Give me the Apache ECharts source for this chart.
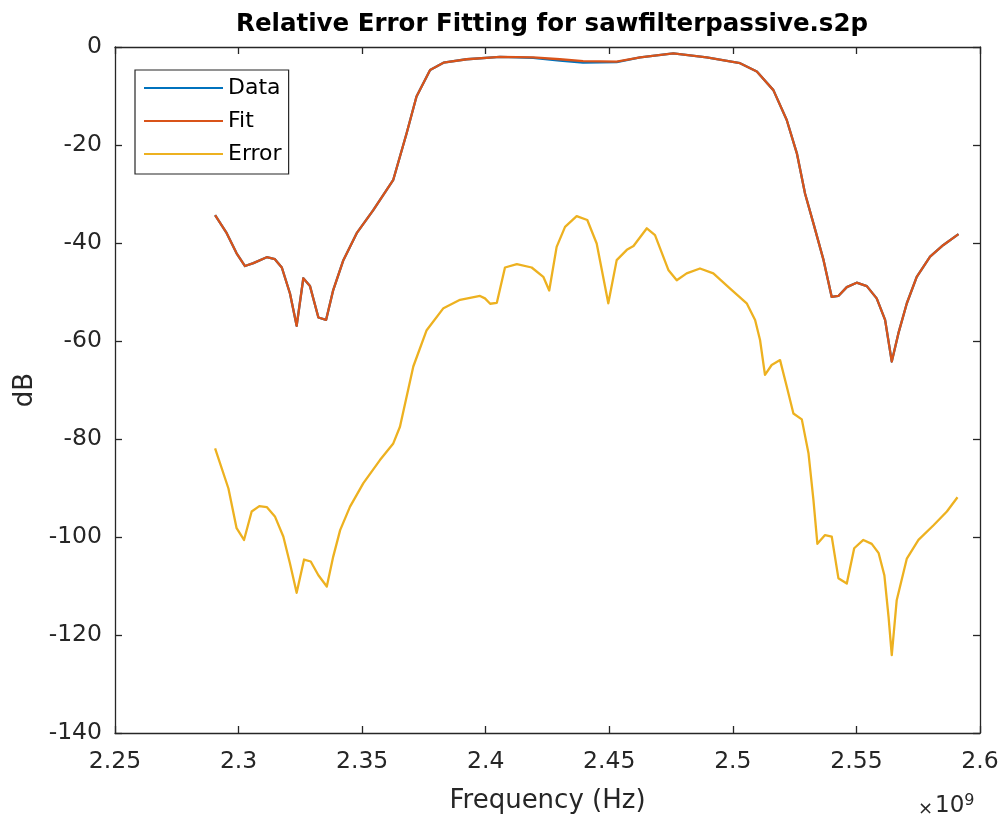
<!DOCTYPE html>
<html>
<head>
<meta charset="utf-8">
<script src="https://cdn.jsdelivr.net/npm/echarts@6/dist/echarts.min.js"></script>
<style>html,body{margin:0;padding:0;background:#fff}#c{width:1003px;height:821px}</style>
</head>
<body>
<div id="c"></div>
<script>
// Frequencies in GHz (x 1e9 Hz), values in dB
const fitFreq = [2.2905,2.2952,2.2992,2.3026,2.3060,2.3114,2.3147,2.3175,2.3208,2.3235,2.3262,2.3289,2.3323,2.3354,2.3383,2.3424,2.3478,2.3545,2.3626,2.3680,2.3720,2.3775,2.3829,2.3923,2.4058,2.4192,2.4300,2.4394,2.4530,2.4625,2.4759,2.4894,2.5029,2.5097,2.5164,2.5218,2.5259,2.5292,2.5326,2.5367,2.5400,2.5427,2.5461,2.5501,2.5542,2.5582,2.5616,2.5643,2.5670,2.5704,2.5744,2.5798,2.5852,2.5913];
const fitDb   = [-34.3,-38.0,-42.1,-44.7,-44.1,-42.9,-43.3,-45.0,-50.3,-56.9,-47.2,-48.8,-55.2,-55.7,-49.6,-43.5,-38.0,-33.3,-27.1,-17.6,-10.1,-4.7,-3.2,-2.5,-2.0,-2.1,-2.5,-2.9,-3.0,-2.1,-1.3,-2.1,-3.3,-5.0,-8.8,-14.9,-21.7,-29.9,-36.0,-43.5,-51.0,-50.8,-49.0,-48.1,-48.8,-51.3,-55.7,-64.2,-58.4,-52.3,-46.9,-42.8,-40.4,-38.2];
const dataDb  = [-34.3,-38.0,-42.1,-44.7,-44.1,-42.9,-43.3,-45.0,-50.3,-56.9,-47.2,-48.8,-55.2,-55.7,-49.6,-43.5,-38.0,-33.3,-27.1,-17.6,-10.1,-4.7,-3.2,-2.5,-2.0,-2.2,-2.8,-3.2,-3.1,-2.1,-1.3,-2.1,-3.3,-5.0,-8.8,-14.9,-21.7,-29.9,-36.0,-43.5,-51.0,-50.8,-49.0,-48.1,-48.8,-51.3,-55.7,-64.2,-58.4,-52.3,-46.9,-42.8,-40.4,-38.2];
const errFreq = [2.2905,2.2959,2.2992,2.3022,2.3053,2.3084,2.3114,2.3147,2.3181,2.3208,2.3235,2.3265,2.3292,2.3323,2.3357,2.3383,2.3411,2.3451,2.3505,2.3572,2.3626,2.3653,2.3707,2.3761,2.3829,2.3896,2.3977,2.3997,2.4018,2.4045,2.4078,2.4126,2.4186,2.4233,2.4257,2.4287,2.4321,2.4368,2.4411,2.4449,2.4496,2.4530,2.4571,2.4598,2.4652,2.4685,2.4739,2.4773,2.4813,2.4867,2.4921,2.4989,2.5056,2.5090,2.5110,2.5130,2.5157,2.5191,2.5218,2.5245,2.5279,2.5306,2.5326,2.5342,2.5373,2.5400,2.5427,2.5461,2.5491,2.5528,2.5562,2.5590,2.5613,2.5630,2.5643,2.5663,2.5704,2.5751,2.5812,2.5866,2.5909];
const errDb   = [-81.9,-90.1,-98.2,-100.6,-94.8,-93.7,-93.9,-95.8,-99.9,-105.4,-111.4,-104.6,-105.0,-107.8,-110.1,-104.0,-98.6,-93.8,-89.0,-84.3,-80.9,-77.5,-65.2,-57.8,-53.3,-51.6,-50.8,-51.3,-52.4,-52.2,-45.0,-44.3,-45.0,-46.9,-49.7,-40.8,-36.7,-34.5,-35.3,-40.1,-52.3,-43.5,-41.4,-40.6,-37.0,-38.4,-45.5,-47.6,-46.2,-45.2,-46.2,-49.3,-52.3,-55.7,-59.8,-66.9,-64.9,-63.9,-69.3,-74.8,-76.0,-82.9,-92.4,-101.4,-99.6,-99.9,-108.4,-109.5,-102.3,-100.6,-101.4,-103.3,-107.8,-116.3,-124.1,-112.9,-104.4,-100.6,-97.6,-94.8,-91.9];
const seriesNames = ['Data','Fit','Error'];
const xTickMin = 2.25, xTickMax = 2.6, xTickStep = 0.05;
const yTickMin = -140, yTickMax = 0, yTickStep = 20;

const pairs = (f, v) => f.map((x, i) => [Math.round(x * 1e9), v[i]]);
const FONT = 'DejaVu Sans';
const AX = '#262626';

const chart = echarts.init(document.getElementById('c'), null, {renderer: 'canvas'});
const axisCommon = {
  axisLine: {show: true, onZero: false, lineStyle: {color: AX, width: 1.3}},
  axisTick: {show: true, inside: true, length: 7, lineStyle: {color: AX, width: 1.3}},
  splitLine: {show: false}
};
chart.setOption({
  animation: false,
  backgroundColor: '#fff',
  title: {
    text: 'Relative Error Fitting for sawfilterpassive.s2p',
    left: 547, top: 7, textAlign: 'center',
    textStyle: {fontFamily: FONT, fontSize: 24.5, fontWeight: 'bold', color: '#000'}
  },
  grid: {left: 115, right: 23, top: 47, bottom: 88, containLabel: false},
  legend: {
    data: seriesNames, orient: 'vertical', left: 135, top: 70,
    padding: [7, 7, 9, 9], itemGap: 11, itemWidth: 79, itemHeight: 2, icon: 'rect',
    backgroundColor: '#fff', borderColor: AX, borderWidth: 1.2,
    textStyle: {fontFamily: FONT, fontSize: 22, color: '#000', lineHeight: 22}
  },
  xAxis: [
    Object.assign({
      type: 'value', position: 'bottom',
      min: xTickMin * 1e9, max: xTickMax * 1e9, interval: Math.round(xTickStep * 1e9),
      axisLabel: {fontFamily: FONT, fontSize: 23.5, color: AX, margin: 17,
        formatter: v => String(parseFloat((v / 1e9).toFixed(2)))},
      name: 'Frequency (Hz)', nameLocation: 'middle', nameGap: 55,
      nameTextStyle: {fontFamily: FONT, fontSize: 26, color: AX}
    }, axisCommon),
    Object.assign({
      type: 'value', position: 'top',
      min: xTickMin * 1e9, max: xTickMax * 1e9, interval: Math.round(xTickStep * 1e9),
      axisLabel: {show: false}
    }, axisCommon)
  ],
  yAxis: [
    Object.assign({
      type: 'value', position: 'left', min: yTickMin, max: yTickMax, interval: yTickStep,
      axisLabel: {fontFamily: FONT, fontSize: 23.5, color: AX, margin: 13},
      name: 'dB', nameLocation: 'middle', nameGap: 66,
      nameTextStyle: {fontFamily: FONT, fontSize: 26, color: AX}
    }, axisCommon),
    Object.assign({
      type: 'value', position: 'right', min: yTickMin, max: yTickMax, interval: yTickStep,
      axisLabel: {show: false}
    }, axisCommon)
  ],
  series: [
    {name: 'Data', type: 'line', data: pairs(fitFreq, dataDb), symbol: 'none',
     lineStyle: {color: '#0072BD', width: 2.3, join: 'round'}, itemStyle: {color: '#0072BD'}},
    {name: 'Fit', type: 'line', data: pairs(fitFreq, fitDb), symbol: 'none',
     lineStyle: {color: '#D95319', width: 2.3, join: 'round'}, itemStyle: {color: '#D95319'}},
    {name: 'Error', type: 'line', data: pairs(errFreq, errDb), symbol: 'none',
     lineStyle: {color: '#EDB120', width: 2.3, join: 'round'}, itemStyle: {color: '#EDB120'}}
  ],
  graphic: [
    {type: 'text', left: 918, top: 793,
     style: {rich: {a: {fontFamily: FONT, fontSize: 18, fill: AX, padding: [6,2,0,0]},
                    b: {fontFamily: FONT, fontSize: 23, fill: AX},
                    c: {fontFamily: FONT, fontSize: 16, fill: AX, verticalAlign: 'top', padding: [0,0,10,0]}},
            text: '{a|×}{b|10}{c|9}'}}
  ]
});
</script>
</body>
</html>
